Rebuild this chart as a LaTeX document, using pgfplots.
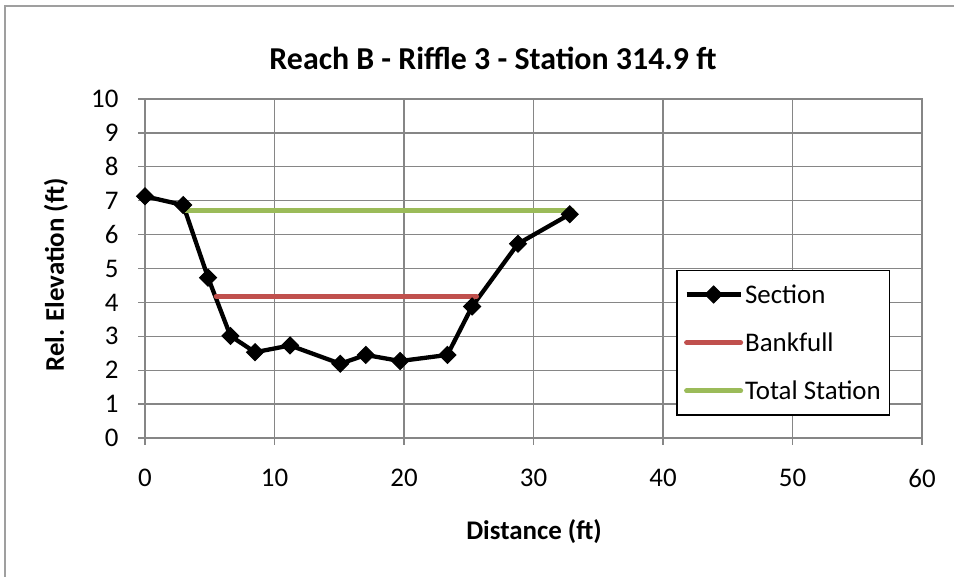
\documentclass[border=0pt]{standalone}
\usepackage{pgfplots}
\pgfplotsset{compat=1.18}
\usepackage{fontspec}
\setmainfont{Carlito}
\definecolor{gridgray}{RGB}{134,134,134}
\definecolor{bkred}{RGB}{192,80,77}
\definecolor{tsgreen}{RGB}{155,187,89}
\newcommand{\tickfont}{\fontsize{27}{32}\selectfont}
\begin{document}
\begin{tikzpicture}[x=1bp,y=1bp]
\useasboundingbox (0,0) rectangle (954,577);
\draw[gray!75, line width=2bp] (5,0) -- (5,571) -- (954,571);
\node[font=\fontsize{32}{38}\selectfont\bfseries] at (493,519) {Reach B - Riffle 3 - Station 314.9 ft};
\node[font=\fontsize{27}{32}\selectfont\bfseries, rotate=90] at (56,302) {Rel. Elevation (ft)};
\node[font=\fontsize{27}{32}\selectfont\bfseries] at (534,45) {Distance (ft)};
\begin{axis}[at={(145bp,139bp)}, anchor=south west, scale only axis,
  width=777bp, height=339bp,
  xmin=0, xmax=60, ymin=0, ymax=10,
  xtick={0,10,...,60}, ytick={0,1,...,10},
  grid=major, major grid style={gridgray, line width=1.3bp},
  axis line style={gridgray, line width=1.3bp},
  tick style={gridgray, line width=1.3bp},
  tick align=outside, major tick length=7bp, tick pos=left,
  /pgf/number format/assume math mode=true,
  ticklabel style={font=\tickfont, text=black},
  xticklabel style={yshift=-21bp},
  yticklabel style={xshift=-16bp},
  legend style={at={(rel axis cs:0.684,0.496)}, anchor=north west,
    draw=black, line width=1.3bp, font=\tickfont,
    inner xsep=7bp, inner ysep=12bp, row sep=24bp, fill=white},
  legend cell align=left,
  legend image code/.code={\draw[mark repeat=2, mark phase=2, #1] plot coordinates {(0bp,0bp) (27bp,0bp) (54bp,0bp)};},
]
\addplot[black, line width=4.3bp, mark=square*, mark size=6bp, mark options={rotate=45, line width=1bp}] coordinates {
(0,7.13) (2.95,6.87) (4.87,4.73) (6.6,3.01) (8.5,2.53) (11.2,2.73) (15.08,2.19) (17.05,2.45) (19.7,2.27) (23.35,2.45) (25.26,3.88) (28.8,5.73) (32.8,6.6)};
\addlegendentry{Section}
\addplot[bkred, line width=5bp, line cap=round] coordinates {(5.5,4.18) (25.6,4.18)};
\addlegendentry{Bankfull}
\addplot[tsgreen, line width=5bp, line cap=round] coordinates {(2.95,6.72) (33.0,6.72)};
\addlegendentry{Total Station}
\end{axis}
\end{tikzpicture}
\end{document}
